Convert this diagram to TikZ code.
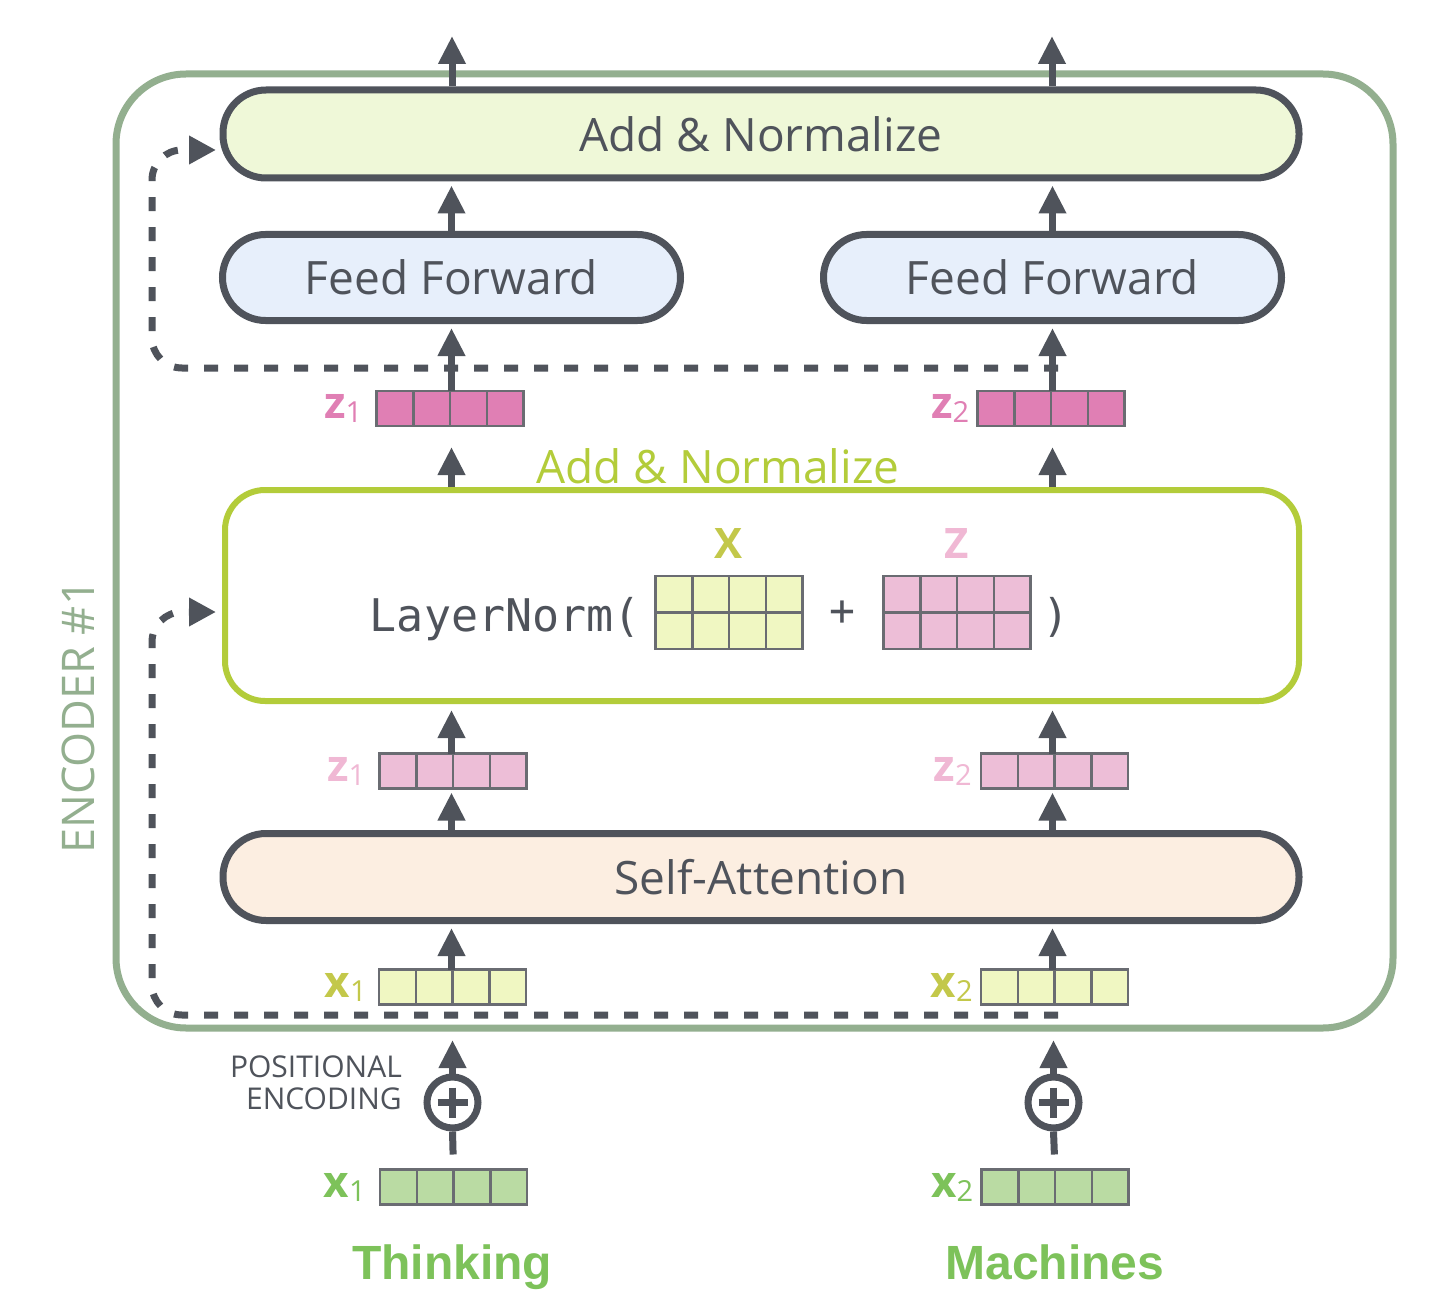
\documentclass[tikz,border=0pt]{standalone}
\usepackage{fontspec}
\setmainfont{Open Sans}
\newfontfamily\monof{DejaVu Sans Mono}
\newfontfamily\arialf{Liberation Sans}
\usetikzlibrary{arrows.meta,calc,positioning}
\definecolor{dk}{HTML}{4F535B}
\definecolor{encg}{HTML}{93AF8F}
\definecolor{anfill}{HTML}{EFF8D8}
\definecolor{fffill}{HTML}{E7EFFB}
\definecolor{safill}{HTML}{FCEEE1}
\definecolor{lng}{HTML}{B3CC3A}
\definecolor{zdark}{HTML}{E07FB4}
\definecolor{zlight}{HTML}{EDBED7}
\definecolor{zlightt}{HTML}{F0B8D4}
\definecolor{xyel}{HTML}{F0F7C2}
\definecolor{xyelt}{HTML}{C3C84A}
\definecolor{xgrn}{HTML}{BADBA3}
\definecolor{xgrnt}{HTML}{7DC25A}
\definecolor{cellc}{HTML}{6A6C72}
\tikzset{
  arr/.style={draw=dk, line width=7pt, -{Triangle[width=26pt,length=28pt]}},
  plainline/.style={draw=dk, line width=7pt},
  dsh/.style={draw=dk, line width=7pt, dash pattern=on 14pt off 16pt, rounded corners=30pt, -{Triangle[width=27pt,length=27pt]}},
  pill/.style={draw=dk, line width=7pt, rounded corners=43pt, text=dk, font=\fontsize{46}{50}\selectfont},
  vec/.style={draw=cellc, line width=2.5pt, minimum width=147pt, minimum height=35pt, inner sep=0pt, outer sep=0pt,
    path picture={\foreach \i in {1,2,3}{\draw[draw=cellc,line width=2.5pt] ($(path picture bounding box.north west)!\i/4!(path picture bounding box.north east)$) -- ($(path picture bounding box.south west)!\i/4!(path picture bounding box.south east)$);}}},
  mat/.style={draw=cellc, line width=2.5pt, minimum width=147pt, minimum height=73pt, inner sep=0pt, outer sep=0pt,
    path picture={\foreach \i in {1,2,3}{\draw[draw=cellc,line width=2.5pt] ($(path picture bounding box.north west)!\i/4!(path picture bounding box.north east)$) -- ($(path picture bounding box.south west)!\i/4!(path picture bounding box.south east)$);}
    \draw[draw=cellc,line width=2.5pt] (path picture bounding box.west) -- (path picture bounding box.east);}},
  veclab/.style={inner sep=0pt, font=\fontsize{44}{44}\selectfont\bfseries},
}
\newcommand{\vlab}[2]{#1\raisebox{-4pt}{\fontsize{29}{29}\mdseries\selectfont #2}}
\begin{document}
\begin{tikzpicture}[x=1pt,y=-1pt]
\useasboundingbox[fill=white] (0,0) rectangle (1452,1316);
% encoder frame
\node[draw=encg, line width=7pt, rounded corners=70pt, minimum width=1277pt, minimum height=954pt, inner sep=0pt] (enc) at (754.5,551) {};
\node[rotate=90, text=encg, font=\fontsize{45}{50}\selectfont, inner sep=0pt] (enclab) at (78,717) {ENCODER \#1};
% main boxes
\node[pill, fill=anfill, minimum width=1076pt, minimum height=88pt] (an2) at (761,134) {Add \& Normalize};
\node[pill, fill=fffill, minimum width=458pt, minimum height=86pt] (ff1) at (451.5,277.5) {Feed Forward};
\node[pill, fill=fffill, minimum width=458pt, minimum height=86pt] (ff2) at (1052.5,277.5) {Feed Forward};
\node[pill, fill=safill, minimum width=1076pt, minimum height=87pt] (sa) at (761,877) {Self-Attention};
\node[draw=lng, fill=white, line width=6pt, rounded corners=40pt, minimum width=1074pt, minimum height=211pt, inner sep=0pt] (ln) at (762,595.5) {};
\node[text=lng, font=\fontsize{46}{50}\selectfont, inner sep=0pt] (an1lab) at (718,466) {Add \& Normalize};
% layernorm content
\node[anchor=base east, inner sep=0pt, text=dk, font=\monof\fontsize{45}{47}\selectfont] (lntext) at (641,631) {LayerNorm(};
\node[mat, fill=xyel] (mx) at (729,612.5) {};
\node[mat, fill=zlight] (mz) at (957,612.5) {};
\node[inner sep=0pt, text=dk, font=\monof\fontsize{43}{45}\selectfont] (plus) at (842,613) {+};
\node[anchor=base, inner sep=0pt, text=dk, font=\monof\fontsize{45}{47}\selectfont] (rpar) at (1056,631) {)};
\node[inner sep=0pt, text=xyelt, font=\fontsize{42}{45}\selectfont\bfseries] (mxlab) at (729,544) {X};
\node[inner sep=0pt, text=zlightt, font=\fontsize{42}{45}\selectfont\bfseries] (mzlab) at (957,544) {Z};
% vectors
\node[vec, fill=zdark] (zd1) at (450,408.5) {};
\node[vec, fill=zdark] (zd2) at (1051,408.5) {};
\node[vec, fill=zlight] (zl1) at (453,771) {};
\node[vec, fill=zlight] (zl2) at (1054.5,771) {};
\node[vec, fill=xyel] (xy1) at (452.5,987) {};
\node[vec, fill=xyel] (xy2) at (1054.5,987) {};
\node[vec, fill=xgrn] (xg1) at (453.5,1187) {};
\node[vec, fill=xgrn] (xg2) at (1055,1187) {};
\node[veclab, text=zdark, left=14pt of zd1] (zd1l) {\vlab{z}{1}};
\node[veclab, text=zdark, left=8pt of zd2] (zd2l) {\vlab{z}{2}};
\node[veclab, text=zlightt, left=14pt of zl1] (zl1l) {\vlab{z}{1}};
\node[veclab, text=zlightt, left=9pt of zl2] (zl2l) {\vlab{z}{2}};
\node[veclab, text=xyelt, left=12pt of xy1] (xy1l) {\vlab{x}{1}};
\node[veclab, text=xyelt, left=8pt of xy2] (xy2l) {\vlab{x}{2}};
\node[veclab, text=xgrnt, left=14pt of xg1] (xg1l) {\vlab{x}{1}};
\node[veclab, text=xgrnt, left=8pt of xg2] (xg2l) {\vlab{x}{2}};
% words
\node[anchor=base, inner sep=0pt, text=xgrnt, font=\arialf\fontsize{48}{50}\selectfont\bfseries] (w1) at (452,1279) {Thinking};
\node[anchor=base, inner sep=0pt, text=xgrnt, font=\arialf\fontsize{48}{50}\selectfont\bfseries] (w2) at (1055,1279) {Machines};
% positional encoding
\node[anchor=east, align=right, inner sep=0pt, text=dk, font=\fontsize{30}{32}\selectfont] (pe) at (402,1083) {POSITIONAL\\ENCODING};
\foreach \n/\xx in {p1/452.5,p2/1053.5}{
  \node[circle, draw=dk, line width=7pt, minimum size=51pt, inner sep=0pt,
    path picture={\draw[dk,line width=7pt] ($(path picture bounding box.center)+(-15,0)$) -- ($(path picture bounding box.center)+(15,0)$);
                  \draw[dk,line width=7pt] ($(path picture bounding box.center)+(0,-15)$) -- ($(path picture bounding box.center)+(0,15)$);}] (\n) at (\xx,1102.5) {};
}
% coordinates
\coordinate (o1) at (452,36);
\coordinate (o2) at (1052,36);
\coordinate (pe1) at (452.5,1040);
\coordinate (pe2) at (1053.5,1040);
\coordinate (d1s) at (1058,368);
\coordinate (d1c) at (152,368);
\coordinate (d1u) at (152,150);
\coordinate (t1) at (216,150);
\coordinate (d2s) at (1058,1015);
\coordinate (d2c) at (152,1015);
\coordinate (d2u) at (152,612);
\coordinate (t2) at (216,612);
% dashed residual paths
\draw[dsh] (d1s) -- (d1c) -- (d1u) -- (t1);
\draw[dsh] (d2s) -- (d2c) -- (d2u) -- (t2);
% arrows
\draw[arr] (o1 |- an2.north) -- (o1);
\draw[arr] (o2 |- an2.north) -- (o2);
\draw[arr, shorten >=4pt] (ff1.north) -- (ff1.north |- an2.south);
\draw[arr, shorten >=4pt] (ff2.north) -- (ff2.north |- an2.south);
\draw[arr, shorten >=4pt] (ff1.south |- zd1.north) -- (ff1.south);
\draw[arr, shorten >=4pt] (ff2.south |- zd2.north) -- (ff2.south);
\draw[arr, shorten >=21pt] (ff1.south |- ln.north) -- (ff1.south |- zd1.south);
\draw[arr, shorten >=21pt] (ff2.south |- ln.north) -- (ff2.south |- zd2.south);
\draw[arr, shorten >=6pt] (ff1.south |- zl1.north) -- (ff1.south |- ln.south);
\draw[arr, shorten >=6pt] (ff2.south |- zl2.north) -- (ff2.south |- ln.south);
\draw[arr, shorten >=4pt] (ff1.south |- sa.north) -- (ff1.south |- zl1.south);
\draw[arr, shorten >=4pt] (ff2.south |- sa.north) -- (ff2.south |- zl2.south);
\draw[arr, shorten >=4pt] (ff1.south |- xy1.north) -- (ff1.south |- sa.south);
\draw[arr, shorten >=4pt] (ff2.south |- xy2.north) -- (ff2.south |- sa.south);
\draw[arr] (p1.north) -- (pe1);
\draw[arr] (p2.north) -- (pe2);
\draw[plainline, shorten <=15pt] (xg1.north) -- (p1.south);
\draw[plainline, shorten <=15pt] (xg2.north) -- (p2.south);
\end{tikzpicture}
\end{document}
